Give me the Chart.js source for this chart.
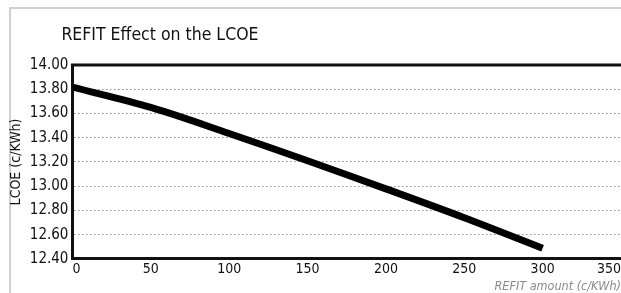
<!DOCTYPE html>
<html>
<head>
<meta charset="utf-8">
<script src="https://cdn.jsdelivr.net/npm/chart.js@4.4.0/dist/chart.umd.min.js"></script>
<style>
  html, body { margin: 0; padding: 0; background: #fff; overflow: hidden; }
  #wrap { position: relative; width: 621px; height: 293px; }
  #moldura { position: absolute; left: 9px; top: 7px; width: 640px; height: 320px;
             border-top: 2px solid #d0d0d0; border-left: 2px solid #d0d0d0; }
  canvas { position: absolute; left: 0; top: 0; }
</style>
</head>
<body>
<div id="wrap">
  <div id="moldura"></div>
  <canvas id="graficoLcoe" width="621" height="293"></canvas>
</div>
<script>
// valores
const refitAmount = [0, 50, 100, 150, 200, 250, 300];
const lcoe = [13.818, 13.65, 13.435, 13.21, 12.978, 12.74, 12.488];
const xTicks = [0, 50, 100, 150, 200, 250, 300, 350];
const yTicks = [12.4, 12.6, 12.8, 13.0, 13.2, 13.4, 13.6, 13.8, 14.0];

const fonte = "'Liberation Sans Narrow', 'DejaVu Sans Condensed', sans-serif";

// linha preta no topo da area do grafico + posicao do titulo
const bordaTopo = {
  id: 'bordaTopo',
  afterLayout(chart) {
    chart.titleBlock.left = chart.chartArea.left - 11;
  },
  afterDraw(chart) {
    const { ctx, chartArea } = chart;
    ctx.save();
    ctx.strokeStyle = '#111';
    ctx.lineWidth = 3;
    ctx.beginPath();
    ctx.moveTo(chartArea.left - 1.5, chartArea.top);
    ctx.lineTo(chartArea.right, chartArea.top);
    ctx.stroke();
    ctx.restore();
  }
};

const ctxLcoe = document.getElementById('graficoLcoe').getContext('2d');
const graficoLcoe = new Chart(ctxLcoe, {
  type: 'line',
  data: {
    datasets: [{
      label: 'LCOE',
      data: refitAmount.map((x, i) => ({ x: x, y: lcoe[i] })),
      borderColor: '#000',
      borderWidth: 7,
      borderCapStyle: 'butt',
      borderJoinStyle: 'round',
      tension: 0.35,
      pointRadius: 0,
      fill: false
    }]
  },
  options: {
    responsive: false,
    animation: false,
    layout: { padding: { top: 25, left: 8, right: 0, bottom: 0 } },
    plugins: {
      legend: { display: false },
      tooltip: { enabled: false },
      title: {
        display: true,
        text: 'REFIT Effect on the LCOE',
        align: 'start',
        color: '#111',
        font: { family: fonte, size: 17.5, weight: 'normal', lineHeight: 1.2 },
        padding: { top: 0, bottom: 19 }
      }
    },
    scales: {
      x: {
        type: 'linear',
        min: xTicks[0],
        max: xTicks[xTicks.length - 1],
        afterBuildTicks: (scale) => { scale.ticks = xTicks.map(v => ({ value: v })); },
        afterFit: (scale) => { scale.paddingRight = 0; },
        grid: { display: false, drawTicks: false, tickLength: 0 },
        border: { display: true, color: '#111', width: 3 },
        ticks: {
          align: 'inner',
          padding: 3,
          color: '#111',
          font: { family: fonte, size: 14, lineHeight: 1 }
        },
        title: {
          display: true,
          text: 'REFIT amount (c/KWh)',
          align: 'end',
          color: '#8a8a8a',
          padding: { top: 1, bottom: 0 },
          font: { family: fonte, size: 12.5, style: 'italic', lineHeight: 1.05 }
        }
      },
      y: {
        min: yTicks[0],
        max: yTicks[yTicks.length - 1],
        afterBuildTicks: (scale) => { scale.ticks = yTicks.map(v => ({ value: v })); },
        grid: {
          drawTicks: false,
          tickLength: 0,
          lineWidth: 1,
          color: (c) => {
            const v = c.tick ? c.tick.value : null;
            if (v === null || Math.abs(v - 14) < 0.001 || Math.abs(v - 12.4) < 0.001) return 'rgba(0,0,0,0)';
            return '#8c8c8c';
          }
        },
        border: { display: true, color: '#111', width: 3, dash: [1.5, 2.5] },
        ticks: {
          padding: 4,
          color: '#111',
          font: { family: fonte, size: 15 },
          callback: (v) => Number(v).toFixed(2)
        },
        title: {
          display: true,
          text: 'LCOE (c/KWh)',
          color: '#111',
          padding: { top: 0, bottom: 1 },
          font: { family: fonte, size: 14, lineHeight: 1.2 }
        }
      }
    }
  },
  plugins: [bordaTopo]
});
</script>
</body>
</html>
